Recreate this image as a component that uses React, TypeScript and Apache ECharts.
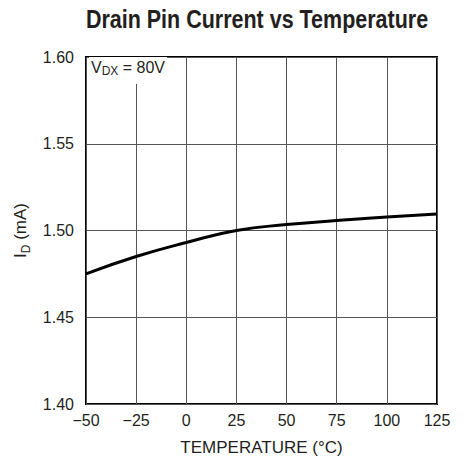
import React, { useEffect, useRef } from "react";
import * as echarts from "echarts";

const temperatures = [-50, -25, 0, 25, 50, 75, 100, 125];
const drainCurrent = [1.475, 1.485, 1.4931, 1.5, 1.5034, 1.5057, 1.5078, 1.5095];
const titleText = "Drain Pin Current vs Temperature";
const xAxisTitle = "TEMPERATURE (°C)";

const FONT = "'Liberation Sans', Arial, sans-serif";
const INK = "#231f20";

export default function App() {
  const ref = useRef<HTMLDivElement>(null);
  useEffect(() => {
    if (!ref.current) return;
    const chart = echarts.init(ref.current, null, { renderer: "svg" });
    chart.setOption({
      animation: false,
      backgroundColor: "#ffffff",
      grid: {
        left: 86,
        right: 31,
        top: 57,
        bottom: 54,
        show: true,
        borderColor: "#000",
        borderWidth: 2,
        backgroundColor: "transparent",
      },
      xAxis: {
        type: "value",
        min: -50,
        max: 125,
        interval: 25,
        name: xAxisTitle,
        nameLocation: "middle",
        nameGap: 35,
        nameTextStyle: { fontFamily: FONT, fontSize: 17, color: INK },
        axisLine: { show: false },
        axisTick: { show: false },
        axisLabel: {
          fontFamily: FONT,
          fontSize: 16,
          color: INK,
          margin: 8,
          formatter: (v: number) => String(v).replace("-", "\u2212"),
        },
        splitLine: { show: true, lineStyle: { color: "#555", width: 1 } },
      },
      yAxis: {
        type: "value",
        min: 1.4,
        max: 1.6,
        interval: 0.05,
        name: "{m|I}{s|D}{m| (mA)}",
        nameLocation: "middle",
        nameGap: 54,
        nameRotate: 90,
        nameTextStyle: {
          fontFamily: FONT,
          color: INK,
          rich: {
            m: { fontFamily: FONT, fontSize: 17, color: INK, lineHeight: 20 },
            s: { fontFamily: FONT, fontSize: 12, color: INK, lineHeight: 12, padding: [10, 0, 0, 0] },
          },
        },
        axisLine: { show: false },
        axisTick: { show: false },
        axisLabel: {
          fontFamily: FONT,
          fontSize: 16,
          color: INK,
          margin: 12,
          formatter: (v: number) => v.toFixed(2),
        },
        splitLine: { show: true, lineStyle: { color: "#555", width: 1 } },
      },
      graphic: [
        {
          type: "text",
          x: 257,
          y: 7,
          scaleX: 0.86,
          style: {
            text: titleText,
            align: "center",
            verticalAlign: "top",
            fontFamily: FONT,
            fontWeight: "bold",
            fontSize: 25,
            fill: INK,
          },
        },
        {
          type: "text",
          x: 89,
          y: 57,
          z: 10,
          style: {
            text: "{m|V}{s|DX}{m| = 80V}",
            backgroundColor: "#fff",
            padding: [1, 2, 8, 2],
            rich: {
              m: { fontFamily: FONT, fontSize: 16, fill: INK, lineHeight: 18 },
              s: { fontFamily: FONT, fontSize: 12, fill: INK, lineHeight: 12, padding: [8, 0, 0, 0] },
            },
          },
        },
      ],
      series: [
        {
          type: "line",
          data: temperatures.map((t, i) => [t, drainCurrent[i]]),
          smooth: true,
          showSymbol: false,
          lineStyle: { color: "#000", width: 3 },
          z: 5,
        },
      ],
    });
    return () => chart.dispose();
  }, []);
  return <div ref={ref} style={{ width: 468, height: 461, position: "absolute", left: 0, top: 0 }} />;
}
